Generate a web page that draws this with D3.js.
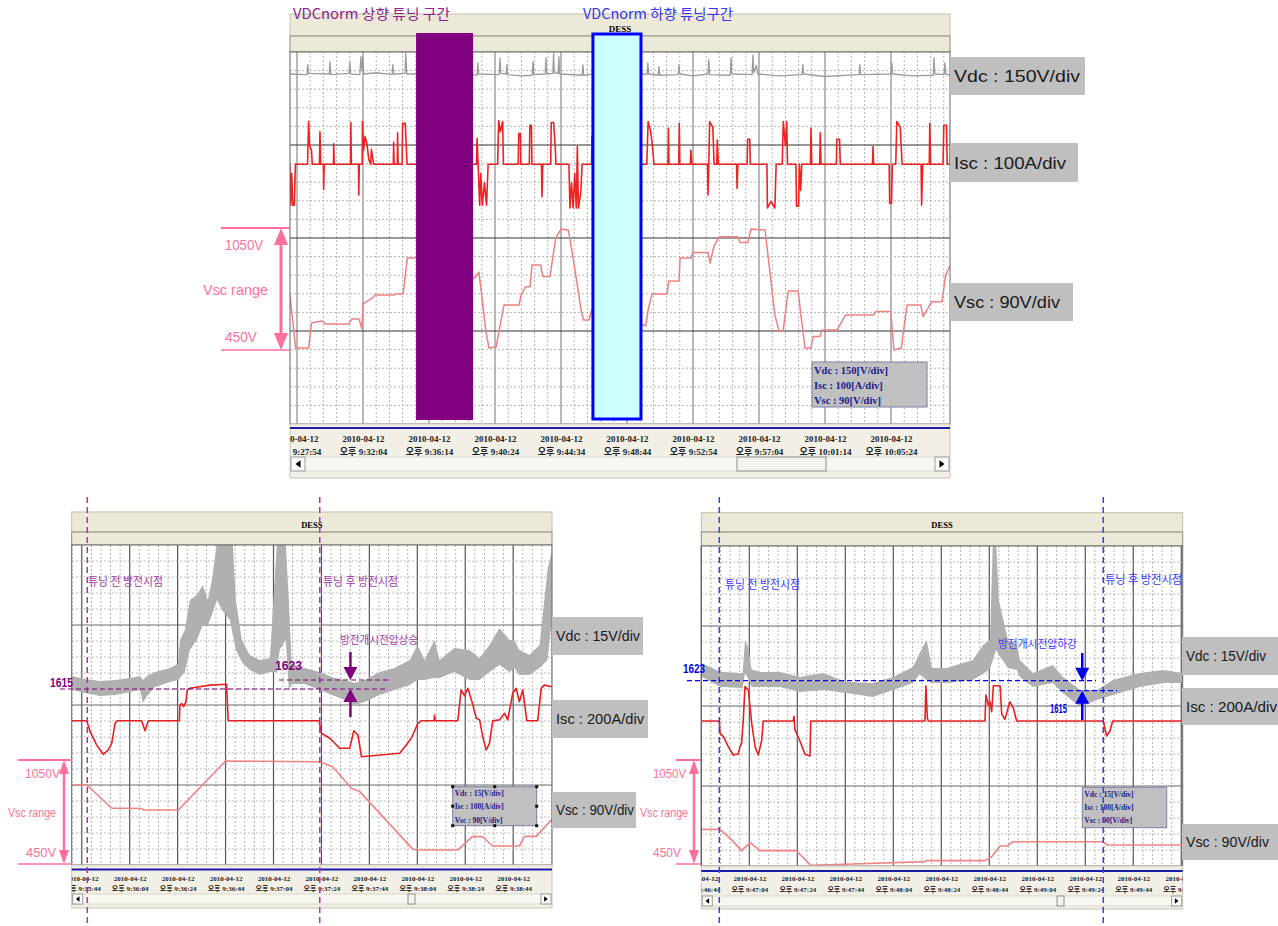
<!DOCTYPE html>
<html><head><meta charset="utf-8">
<script src="https://cdn.jsdelivr.net/npm/d3@7"></script>
<style>body{margin:0;background:#fff;} svg{display:block;}</style>
</head><body>
<svg id="box" width="1278" height="926"></svg>
<script>
// tick labels (time of day) for the three recorder screens
let day="2010-04-12 ";
let topTicks=["21:27:54","21:32:04","21:36:14","21:40:24","21:44:34","21:48:44","21:52:54","21:57:04","22:01:14","22:05:24"];
let leftTicks=["21:35:44","21:36:04","21:36:24","21:36:44","21:37:04","21:37:24","21:37:44","21:38:04","21:38:24","21:38:44"];
let rightTicks=["21:46:44","21:47:04","21:47:24","21:47:44","21:48:04","21:48:24","21:48:44","21:49:04","21:49:24","21:49:44","21:50:04"];

// tuning intervals on the top screen, seconds after 21:27:54
let tuneZones=[[451,667],[1121,1303]];

// top screen series: [seconds, value]
let vdcTop=[[-27,1620],[38,1619],[41,1635],[44,1621],[122,1620],[125,1640],[128,1619],[197,1621],[200,1640],[203,1620],[238,1619],[242,1648],[246,1625],[250,1648],[253,1620],[300,1622],[360,1619],[363,1635],[366,1620],[409,1621],[412,1654],[416,1620],[450,1620],[670,1619],[682,1618],[685,1638],[688,1620],[766,1619],[769,1646],[772,1621],[792,1620],[795,1635],[798,1619],[850,1617],[891,1618],[894,1640],[897,1619],[940,1620],[943,1646],[946,1620],[969,1621],[972,1654],[975,1622],[989,1621],[992,1648],[995,1620],[1080,1618],[1083,1635],[1086,1618],[1125,1620],[1313,1620],[1326,1619],[1329,1638],[1332,1620],[1368,1618],[1371,1632],[1374,1618],[1444,1619],[1447,1635],[1450,1620],[1500,1617],[1557,1620],[1560,1643],[1563,1619],[1641,1618],[1644,1646],[1647,1620],[1724,1619],[1727,1651],[1730,1622],[1740,1634],[1745,1620],[1830,1617],[1913,1619],[1916,1635],[1919,1620],[2000,1616],[2129,1619],[2132,1635],[2135,1619],[2250,1620],[2253,1638],[2256,1620],[2330,1617],[2410,1618],[2413,1646],[2416,1620],[2451,1619],[2454,1638],[2457,1620],[2474,1618]];
let iscTop=[[-27,0],[-24,-44],[-20,-10],[-16,-44],[-10,-44],[-6,0],[40,0],[44,46],[48,20],[55,15],[58,0],[85,0],[87,35],[90,0],[100,0],[101,-27],[103,0],[138,0],[139,22],[141,0],[203,0],[204,45],[206,0],[233,0],[234,-33],[236,0],[247,0],[248,46],[252,15],[258,30],[265,22],[272,5],[279,0],[282,16],[290,0],[365,0],[366,24],[368,0],[380,0],[381,34],[383,0],[398,0],[400,44],[410,44],[417,0],[460,0],[670,0],[680,0],[682,28],[686,0],[692,-44],[696,-10],[702,-44],[710,-20],[718,-44],[724,0],[760,0],[764,47],[770,35],[779,46],[782,0],[838,0],[840,33],[846,33],[848,0],[880,0],[882,42],[888,42],[890,0],[926,0],[928,-35],[931,0],[961,0],[963,45],[972,45],[978,20],[981,0],[1030,0],[1034,-47],[1040,-20],[1046,-47],[1052,-10],[1058,-47],[1062,19],[1066,-47],[1075,-30],[1080,0],[1116,0],[1117,30],[1120,0],[1325,0],[1330,46],[1340,35],[1348,15],[1352,0],[1405,0],[1407,39],[1409,0],[1446,0],[1448,44],[1450,0],[1490,0],[1492,15],[1496,0],[1555,0],[1557,-33],[1560,0],[1563,46],[1575,40],[1580,0],[1590,0],[1592,26],[1596,0],[1665,0],[1667,-26],[1670,0],[1705,0],[1707,27],[1715,27],[1717,0],[1780,0],[1782,-47],[1795,-40],[1810,-47],[1815,0],[1838,0],[1842,46],[1850,20],[1855,46],[1858,0],[1890,0],[1892,-45],[1900,-45],[1903,0],[1908,-28],[1912,0],[1945,0],[1947,39],[1950,0],[1980,0],[1982,34],[1985,0],[2043,0],[2045,27],[2055,27],[2058,0],[2180,0],[2182,19],[2184,0],[2243,0],[2245,-42],[2252,-42],[2255,0],[2268,0],[2272,46],[2285,40],[2292,0],[2364,0],[2366,-44],[2370,0],[2395,0],[2397,44],[2400,0],[2447,0],[2450,42],[2460,42],[2463,0],[2474,0],[2476,44]];
let vscTop=[[-27,720],[-5,450],[44,450],[55,577],[93,587],[110,572],[197,572],[207,597],[235,597],[246,547],[250,674],[288,706],[296,720],[369,720],[375,725],[402,725],[418,908],[451,908],[674,806],[689,836],[716,533],[727,450],[754,455],[784,669],[841,669],[849,720],[866,762],[883,762],[890,872],[923,872],[931,813],[958,813],[980,1009],[1000,1055],[1028,1050],[1053,847],[1077,635],[1085,592],[1106,592],[1118,648],[1125,648],[1321,563],[1330,643],[1345,725],[1402,725],[1408,791],[1447,791],[1451,908],[1492,908],[1500,935],[1557,935],[1565,882],[1579,965],[1599,1016],[1670,1016],[1678,986],[1708,986],[1720,1055],[1773,1050],[1810,618],[1826,536],[1841,536],[1861,740],[1898,740],[1924,450],[1947,450],[1955,508],[1981,508],[1989,542],[2046,542],[2078,618],[2184,618],[2192,635],[2249,635],[2261,440],[2289,450],[2311,669],[2363,669],[2371,609],[2404,685],[2443,685],[2457,821],[2477,877]];

// lower-left screen (seconds after 21:35:44); Vdc as [s, upper, lower] of the noisy band
let vdcLeft=[[-4.2,1626.6,1614.1],[1.4,1623.9,1611.4],[7.6,1622.1,1608.8],[13.9,1623,1609.7],[20.1,1624.8,1612.3],[24.3,1626.6,1614.1],[25.5,1623,1602.6],[27.2,1626.6,1608.8],[30.5,1630.1,1616.8],[36.8,1633.7,1621.2],[40.1,1637.2,1623],[41,1658.6,1624.8],[43,1667.5,1630.1],[45.1,1694.1,1649.7],[48,1698.6,1658.6],[50.5,1707.5,1671.9],[52.6,1694.1,1671.9],[54.3,1711.9,1680.8],[56.4,1745,1694.1],[58.5,1745,1685.2],[61.8,1745,1676.3],[63,1745,1663],[64.3,1694.1,1649.7],[66.8,1658.6,1639],[70.1,1645.2,1631.9],[74.3,1640.8,1627.4],[78.5,1642.6,1630.1],[81.4,1745,1630.1],[82.6,1745,1649.7],[85.1,1745,1658.6],[86.4,1694.1,1614.1],[87.6,1637.2,1619.4],[93,1633.7,1619.4],[99.3,1630.1,1614.1],[105.5,1624.8,1608.8],[109.7,1623,1605.2],[113.9,1620.3,1600.8],[118,1623,1603.4],[124.3,1630.1,1609.7],[130.5,1633.7,1614.1],[136.8,1640.8,1618.6],[140.1,1654.1,1623],[143,1640.8,1623],[147.2,1658.6,1624.8],[149.3,1640.8,1624.8],[155.5,1651.4,1630.1],[161.8,1649.7,1623],[166,1642.6,1623],[170.1,1654.1,1630.1],[174.3,1669.2,1636.3],[178.5,1658.6,1630.1],[180.5,1658.6,1633.7],[182.6,1649.7,1627.4],[186.8,1645.2,1627.4],[191,1654.1,1633.7],[194.3,1720.8,1640.8],[196.2,1738.6,1676.3]];
let iscLeft=[[-4.2,0],[2.1,0],[3.5,-27.5],[6.25,-61],[9,-84],[11.1,-73],[12.5,-56.5],[13.9,-6.5],[14.8,0],[25,0],[26.4,-25],[27.75,0],[40.7,0],[41,39],[41.7,43],[42.5,35],[43.5,47.5],[44,77],[45.1,81],[53.5,89],[60.4,91],[61.1,0],[99,0],[100,-31.5],[103.5,-44],[107.6,-69],[111.8,-69],[113.5,-25],[115.25,-36],[116.7,-90],[132.6,-81.5],[135.4,-61],[137.5,-44],[140.25,-6.5],[141.7,0],[147,0],[147.2,14],[147.5,0],[156.9,0],[158.3,77],[159.7,62],[161.1,81],[163.2,39],[164.6,6],[166,2],[167.3,-40],[168.75,-73],[170.1,-56.5],[171.5,0],[174.3,2],[176.4,18.5],[177.75,2],[179.8,68.5],[181.25,81],[182.6,47.5],[184,77],[185.7,0],[190.25,0],[191.7,81],[193,89],[196.2,85]];
let vscLeft=[[-4.2,903],[2.1,903],[12.5,766],[20.1,766],[25,765],[25.7,756],[40.3,756],[60,1044],[99.3,1040],[104.7,1010],[112.5,884],[116,864],[138,527],[139.6,521],[156.9,521],[163,599],[167.2,599],[171.4,544],[182.6,544],[184.7,601],[189.6,601],[196.2,701]];

// lower-right screen (seconds after 21:46:44)
let vdcRight=[[0,1637.2,1626.2],[7.8,1630.2,1618.2],[16.1,1629.2,1617.2],[17.2,1629,1617],[18.2,1655.6,1629],[19.5,1650,1625],[21,1632,1618],[24.5,1630,1618],[32.8,1630,1618],[41.1,1626,1614],[50.7,1629.2,1615.6],[60.6,1622,1613.2],[71.5,1621.2,1610],[79.9,1626,1615.6],[88.2,1634,1621.2],[91,1645.2,1628],[93.9,1655.6,1623.6],[96.1,1633.2,1621.2],[102.3,1633.2,1621.2],[113.2,1639.6,1623.6],[117.4,1651.6,1628.6],[120.3,1655.6,1632.4],[121.5,1735,1639.6],[122.8,1735,1647.6],[124,1687.6,1643.6],[127.8,1655.6,1633.2],[131.5,1651.6,1631.6],[132.8,1639.6,1626],[138.2,1629.2,1618],[146.5,1635.6,1621.2],[150.7,1626,1613.2],[157.8,1615.6,1602],[164.9,1615.6,1607.6],[171.5,1623.6,1611.6],[182.8,1629.2,1618],[192.4,1631.6,1621.2],[200.6,1629.2,1621.2]];
let iscRight=[[0,0],[7.5,0],[7.8,-31],[9.2,-39],[11.25,-64],[13.3,-85],[15.4,-82.5],[16.1,-64],[16.8,-56],[17.5,2.5],[18.2,86],[19.6,77.5],[21,-6],[22.4,-64],[23.75,-85],[25.2,-47.5],[25.8,0],[38.3,0],[38.6,12],[39,-21],[41.1,-50],[43.2,-83],[45.3,-87.5],[45.6,0],[93.2,0],[93.6,88],[94.2,7],[94.6,0],[118.2,0],[118.6,65],[119.6,40],[120.3,48],[121,23],[121.7,88],[124.5,88],[125.2,17],[126.5,4],[128.6,48],[130,33],[131.4,0],[167.5,0],[168.9,-37.5],[170.3,-25],[171.4,0],[200.6,0]];
let vscRight=[[0,642],[7.8,642],[12,589],[16.8,517],[20.3,564],[24.5,517],[39.5,517],[45.6,431],[63.3,438],[93.2,452],[93.6,458],[118.2,458],[121,481],[124.5,544],[127.25,544],[130,569],[167.5,569],[169.2,550],[200.6,550]];

// discharge start markers and the two Vdc levels read at them
let leftMarks=[2.3,99.3], rightMarks=[7.5,167.5];
let leftLevels=[1615,1623], rightLevels=[1623,1615];
let vscRangeV=[450,1050];
let legTop=["Vdc : 150[V/div]","Isc : 100[A/div]","Vsc : 90[V/div]"];
let legBot=["Vdc : 15[V/div]","Isc : 100[A/div]","Vsc : 90[V/div]"];
let divTop=["Vdc : 150V/div","Isc : 100A/div","Vsc : 90V/div"];
let divBot=["Vdc : 15V/div","Isc : 200A/div","Vsc : 90V/div"];

let svg=d3.select("#box");
let defs=svg.append("defs");
let sans="'Liberation Sans',Arial,sans-serif", kr="'Noto Sans CJK KR','Liberation Sans',sans-serif", serif="'Liberation Serif','Times New Roman','Noto Sans CJK KR',serif";
let parse=d3.timeParse("%Y-%m-%d %H:%M:%S");
let fmtT=d=>(d.getHours()<12?"오전 ":"오후 ")+(d.getHours()%12||12)+d3.timeFormat(":%M:%S")(d);
let pink="#ff6f9c";

function panel(p){
  let t0=parse(day+p.ticks[0]);
  let tm=s=>new Date(t0.getTime()+s*1000);
  let x=d3.scaleTime().domain([tm(p.span[0]),tm(p.span[1])]).range([p.x0,p.x1]);
  let X=s=>x(tm(s));
  let w=p.x1-p.x0, ph=p.plotBot-p.plotTop;
  let g=svg.append("g");
  defs.append("clipPath").attr("id",p.id+"c").append("rect").attr("x",p.x0).attr("y",p.plotTop).attr("width",w).attr("height",ph);
  defs.append("clipPath").attr("id",p.id+"a").append("rect").attr("x",p.x0).attr("y",p.plotBot).attr("width",w).attr("height",p.bottom-p.plotBot);
  g.append("rect").attr("x",p.x0).attr("y",p.headTop).attr("width",w).attr("height",p.headMid-p.headTop).attr("fill","#ece9d8").attr("stroke","#c4c0ad");
  g.append("rect").attr("x",p.x0).attr("y",p.headMid).attr("width",w).attr("height",p.plotTop-p.headMid).attr("fill","#ece9d8").attr("stroke","#8e8b7b");
  g.append("text").attr("x",(p.x0+p.x1)/2).attr("y",p.dessY).attr("text-anchor","middle")
    .style("font-family",serif).style("font-weight","bold").style("font-size",p.dessFs+"px").text("DESS");
  g.append("rect").attr("x",p.x0).attr("y",p.plotTop).attr("width",w).attr("height",ph).attr("fill","#fff");
  let grid=g.append("g");
  let k0=Math.ceil(p.span[0]/p.minor), k1=Math.floor(p.span[1]/p.minor);
  d3.range(k0,k1+1).forEach(k=>{
    let xx=X(k*p.minor), maj=((k%5)+5)%5==0;
    grid.append("line").attr("x1",xx).attr("x2",xx).attr("y1",p.plotTop).attr("y2",p.plotBot)
      .attr("stroke",maj?p.vMaj:"#b4b4b4").attr("stroke-width",maj?1.2:1).attr("stroke-dasharray",maj?null:"2,2");
  });
  d3.range(1,20).forEach(k=>{
    let yy=p.plotTop+k*ph/20, maj=k%5==0;
    grid.append("line").attr("x1",p.x0).attr("x2",p.x1).attr("y1",yy).attr("y2",yy)
      .attr("stroke",maj?p.hMaj:"#b4b4b4").attr("stroke-width",maj?1.2:1).attr("stroke-dasharray",maj?null:"2,2");
  });
  let ser=g.append("g").attr("clip-path",`url(#${p.id}c)`);
  g.append("rect").attr("x",p.x0).attr("y",p.plotTop).attr("width",w).attr("height",ph).attr("fill","none").attr("stroke","#666");
  // time axis
  g.append("rect").attr("x",p.x0).attr("y",p.plotBot).attr("width",w).attr("height",p.bottom-p.plotBot).attr("fill","#f1efe6").attr("stroke","#c9c6b6");
  g.append("line").attr("x1",p.x0).attr("x2",p.x1).attr("y1",p.blueY).attr("y2",p.blueY).attr("stroke","#1c1ca8").attr("stroke-width",2);
  let ax=g.append("g").attr("clip-path",`url(#${p.id}a)`).append("g").attr("transform",`translate(0,${p.labY})`)
    .call(d3.axisBottom(x).tickValues(p.ticks.map(s=>parse(day+s))).tickSize(0).tickFormat(""));
  ax.select(".domain").remove();
  ax.selectAll(".tick text").attr("y",0).attr("dy",null)
    .style("font-family",serif).style("font-weight","bold").style("font-size",p.labFs+"px").style("fill","#222")
    .each(function(d){
      let t=d3.select(this);
      t.append("tspan").attr("x",0).attr("dy",0).text("2010-04-12");
      t.append("tspan").attr("x",0).attr("dy",p.lh).text(fmtT(d));
    });
  // scroll bar
  let sb=g.append("g");
  sb.append("rect").attr("x",p.x0+1).attr("y",p.sy).attr("width",w-2).attr("height",p.sh).attr("fill","#f7f6f1").attr("stroke","#dcd9cc");
  [p.x0+1,p.x1-p.sh-1].forEach((bx,i)=>{
    sb.append("rect").attr("x",bx).attr("y",p.sy).attr("width",p.sh).attr("height",p.sh).attr("fill","#fcfcfa").attr("stroke","#9a9a9a");
    let cx=bx+p.sh/2, cy=p.sy+p.sh/2, a=p.sh*0.18;
    sb.append("path").attr("d",i==0?`M${cx+a},${cy-a*1.5}L${cx-a},${cy}L${cx+a},${cy+a*1.5}Z`:`M${cx-a},${cy-a*1.5}L${cx+a},${cy}L${cx-a},${cy+a*1.5}Z`).attr("fill","#000");
  });
  sb.append("rect").attr("x",p.thumb[0]).attr("y",p.sy).attr("width",p.thumb[1]-p.thumb[0]).attr("height",p.sh).attr("fill","#f4f3ee").attr("stroke","#8d8d8d");
  return {X:X, ser:ser};
}

function line(pn,data,y,color,wd){
  pn.ser.append("path").datum(data).attr("d",d3.line().x(d=>pn.X(d[0])).y(d=>y(d[1])))
    .attr("fill","none").attr("stroke",color).attr("stroke-width",wd).attr("stroke-linejoin","round");
}
function band(pn,data,y,color){
  pn.ser.append("path").datum(data).attr("d",d3.area().x(d=>pn.X(d[0])).y0(d=>y(d[2])).y1(d=>y(d[1]))).attr("fill",color);
}
function txt(x,y,s,o){
  let t=svg.append("text").attr("x",x).attr("y",y).text(s)
    .style("font-family",o.ff||sans).style("font-size",(o.fs||12)+"px").style("fill",o.c||"#000");
  if(o.bold) t.style("font-weight","bold");
  if(o.len) t.attr("textLength",o.len).attr("lengthAdjust","spacingAndGlyphs");
  return t;
}
function legend(x,y,w,h,lines,fs,y0,dy,handles){
  svg.append("rect").attr("x",x).attr("y",y).attr("width",w).attr("height",h).attr("fill","#c0c0c0").attr("stroke","#7f7fa4");
  lines.forEach((s,i)=>txt(x+2,y+y0+i*dy,s,{ff:serif,fs:fs,bold:1,c:"#1a1a8c"}));
  if(handles) [[0,0],[.5,0],[1,0],[0,.5],[1,.5],[0,1],[.5,1],[1,1]].forEach(q=>
    svg.append("rect").attr("x",x+q[0]*w-1.5).attr("y",y+q[1]*h-1.5).attr("width",3).attr("height",3).attr("fill","#111"));
}
function divBoxes(list,x,ys,ws,hs,fs,lens){
  list.forEach((s,i)=>{
    svg.append("rect").attr("x",x).attr("y",ys[i]).attr("width",ws[i]).attr("height",hs[i]).attr("fill","#bfbfbf");
    txt(x+4,ys[i]+hs[i]/2+fs*0.36,s,{fs:fs,c:"#1a1a1a",len:lens[i]});
  });
}
function vscRange(ax,yTop,yBot,lx0,lx1,hw,hh,lw,labs){
  svg.append("line").attr("x1",lx0).attr("x2",lx1).attr("y1",yTop).attr("y2",yTop).attr("stroke",pink).attr("stroke-width",2);
  svg.append("line").attr("x1",lx0).attr("x2",lx1).attr("y1",yBot).attr("y2",yBot).attr("stroke",pink).attr("stroke-width",1.5);
  svg.append("line").attr("x1",ax).attr("x2",ax).attr("y1",yTop+hh).attr("y2",yBot-hh).attr("stroke",pink).attr("stroke-width",lw);
  svg.append("path").attr("d",`M${ax},${yTop}L${ax-hw},${yTop+hh}L${ax+hw},${yTop+hh}Z M${ax},${yBot}L${ax-hw},${yBot-hh}L${ax+hw},${yBot-hh}Z`).attr("fill",pink);
  labs.forEach(l=>txt(l[0],l[1],l[2],{fs:l[3],c:pink,len:l[4]}));
}
function arrowPair(x,yA,tipA,yB,tipB,c){
  svg.append("line").attr("x1",x).attr("x2",x).attr("y1",yA).attr("y2",tipA-12).attr("stroke",c).attr("stroke-width",2.5);
  svg.append("line").attr("x1",x).attr("x2",x).attr("y1",yB).attr("y2",tipB+12).attr("stroke",c).attr("stroke-width",2.5);
  svg.append("path").attr("d",`M${x},${tipA}L${x-7},${tipA-13}L${x+7},${tipA-13}Z M${x},${tipB}L${x-7},${tipB+13}L${x+7},${tipB+13}Z`).attr("fill",c);
}

// ---------- top screen ----------
let pT=panel({id:"t",ticks:topTicks,span:[-26.5,2473.5],major:250,minor:50,x0:290,x1:950,headTop:14,headMid:36,plotTop:52,plotBot:424,
  dessY:32,dessFs:9,vMaj:"#8a8a8a",hMaj:"#333",blueY:428,labY:442,lh:13,labFs:9,bottom:478,sy:457,sh:14,thumb:[737,826]});
let yVdcT=d3.scaleLinear().domain([1620,1770]).range([74,-19]);
let yIscT=d3.scaleLinear().domain([0,100]).range([164.3,71.3]);
let yVscT=d3.scaleLinear().domain([450,1050]).range([348,230]);
line(pT,vscTop,yVscT,"#ee8080",1.5);
line(pT,iscTop,yIscT,"#ee2222",1.6);
line(pT,vdcTop,yVdcT,"#9c9c9c",1.3);
svg.append("rect").attr("x",pT.X(tuneZones[0][0])).attr("y",33).attr("width",pT.X(tuneZones[0][1])-pT.X(tuneZones[0][0])).attr("height",387).attr("fill","#800080");
svg.append("rect").attr("x",pT.X(tuneZones[1][0])).attr("y",34).attr("width",pT.X(tuneZones[1][1])-pT.X(tuneZones[1][0])).attr("height",385).attr("fill","#ccffff").attr("stroke","#0000ff").attr("stroke-width",3);
txt(293,19,"VDCnorm 상향 튜닝 구간",{ff:kr,fs:14,c:"#8b238b",len:157});
txt(583,19,"VDCnorm 하향 튜닝구간",{ff:kr,fs:14,c:"#3434f2",len:150});
legend(812,362,115,45,legTop,10.5,12,15,false);
divBoxes(divTop,950,[57,143,283],[135,128,123],[38,39,38],17,[126,112,106]);
vscRange(281,yVscT(vscRangeV[1])-2,yVscT(vscRangeV[0])+2,221,290,7,17,3,[[225,250,"1050V",15,38],[203,295,"Vsc range",15,65],[225,342,"450V",15,32]]);

// ---------- lower-left screen ----------
let pL=panel({id:"l",ticks:leftTicks,span:[-4.2,196.2],major:20,minor:4,x0:71.7,x1:552,headTop:512,headMid:532,plotTop:545,plotBot:865,
  dessY:527.5,dessFs:8.5,vMaj:"#555",hMaj:"#6a6a6a",blueY:869.5,labY:880.5,lh:10.5,labFs:7,bottom:908,sy:894,sh:10,thumb:[408,415]});
let yVdcL=d3.scaleLinear().domain([1615,1623]).range([689,680]);
let yIscL=d3.scaleLinear().domain([0,200]).range([720.7,640.7]);
let yVscL=d3.scaleLinear().domain([450,1050]).range([862,760]);
band(pL,vdcLeft,yVdcL,"#b0b0b0");
line(pL,vscLeft,yVscL,"#f08484",1.6);
line(pL,iscLeft,yIscL,"#e62020",1.6);
legend(452.7,786.7,84,39,legBot,7.5,9,13.5,true);
let cP="#800080", cPt="#a33aa8";
leftMarks.forEach(s=>svg.append("line").attr("x1",pL.X(s)).attr("x2",pL.X(s)).attr("y1",497).attr("y2",925).attr("stroke",cPt).attr("stroke-width",1.5).attr("stroke-dasharray","6,4"));
svg.append("line").attr("x1",60).attr("x2",388).attr("y1",yVdcL(leftLevels[0])).attr("y2",yVdcL(leftLevels[0])).attr("stroke",cP).attr("stroke-width",1.2).attr("stroke-dasharray","5,3");
svg.append("line").attr("x1",279).attr("x2",388).attr("y1",yVdcL(leftLevels[1])).attr("y2",yVdcL(leftLevels[1])).attr("stroke",cP).attr("stroke-width",1.2).attr("stroke-dasharray","5,3");
arrowPair(pL.X(112.1),652,yVdcL(leftLevels[1]),717,yVdcL(leftLevels[0]),cP);
txt(50,687,String(leftLevels[0]),{fs:13,bold:1,c:cP,len:23});
txt(275,670,String(leftLevels[1]),{fs:13,bold:1,c:cP,len:27});
txt(88,586,"튜닝 전 방전시점",{ff:kr,fs:12,c:cPt,len:75});
txt(323,586,"튜닝 후 방전시점",{ff:kr,fs:12,c:cPt,len:75});
txt(340,644,"방전개시전압상승",{ff:kr,fs:11,c:cPt,len:78});
divBoxes(divBot,552,[617,700,792],[91,96,84],[38,38,36],14,[84,88,78]);
vscRange(64,yVscL(vscRangeV[1]),yVscL(vscRangeV[0])+2,18,72,5,14,2.5,[[25,778,"1050V",12,35],[8,817,"Vsc range",12,48],[26,857,"450V",12,30]]);

// ---------- lower-right screen ----------
let pR=panel({id:"r",ticks:rightTicks,span:[0,200.6],major:20,minor:4,x0:701.3,x1:1182.7,headTop:512.7,headMid:532,plotTop:546,plotBot:866,
  dessY:528,dessFs:8.5,vMaj:"#555",hMaj:"#6a6a6a",blueY:871,labY:881,lh:10.5,labFs:7,bottom:909,sy:896,sh:10,thumb:[1057,1064]});
let yVdcR=d3.scaleLinear().domain([1615,1623]).range([690.7,680.7]);
let yIscR=d3.scaleLinear().domain([0,200]).range([721,641]);
let yVscR=d3.scaleLinear().domain([450,1050]).range([862,760]);
band(pR,vdcRight,yVdcR,"#b0b0b0");
line(pR,vscRight,yVscR,"#f08484",1.6);
line(pR,iscRight,yIscR,"#e62020",1.6);
legend(1082.3,787.3,84.4,40.4,legBot,7.5,10,13,false);
let cB="#0000ee", cBt="#3b3bff";
rightMarks.forEach(s=>svg.append("line").attr("x1",pR.X(s)).attr("x2",pR.X(s)).attr("y1",497).attr("y2",925).attr("stroke",cBt).attr("stroke-width",1.5).attr("stroke-dasharray","6,4"));
svg.append("line").attr("x1",687).attr("x2",1096).attr("y1",yVdcR(rightLevels[0])).attr("y2",yVdcR(rightLevels[0])).attr("stroke",cB).attr("stroke-width",1.2).attr("stroke-dasharray","5,3");
svg.append("line").attr("x1",1060).attr("x2",1117).attr("y1",yVdcR(rightLevels[1])).attr("y2",yVdcR(rightLevels[1])).attr("stroke",cB).attr("stroke-width",1.2).attr("stroke-dasharray","5,3");
arrowPair(pR.X(158.75),653,yVdcR(rightLevels[0]),720,yVdcR(rightLevels[1]),cB);
txt(683,673,String(rightLevels[0]),{fs:13,bold:1,c:cB,len:22});
txt(1050,713,String(rightLevels[1]),{fs:13,bold:1,c:cB,len:17});
txt(725,589,"튜닝 전 방전시점",{ff:kr,fs:12,c:cBt,len:75});
txt(1105,584,"튜닝 후 방전시점",{ff:kr,fs:12,c:cBt,len:77});
txt(998,648,"방전개시전압하강",{ff:kr,fs:11,c:cBt,len:79});
divBoxes(divBot,1182,[637,688,824],[96,96,96],[38,37,36],14,[80,91,83]);
vscRange(694,yVscR(vscRangeV[1]),yVscR(vscRangeV[0])+2,676,701,5,14,2.5,[[653,778,"1050V",12,33],[640,817,"Vsc range",12,48],[653,857,"450V",12,28]]);
</script>
</body></html>
